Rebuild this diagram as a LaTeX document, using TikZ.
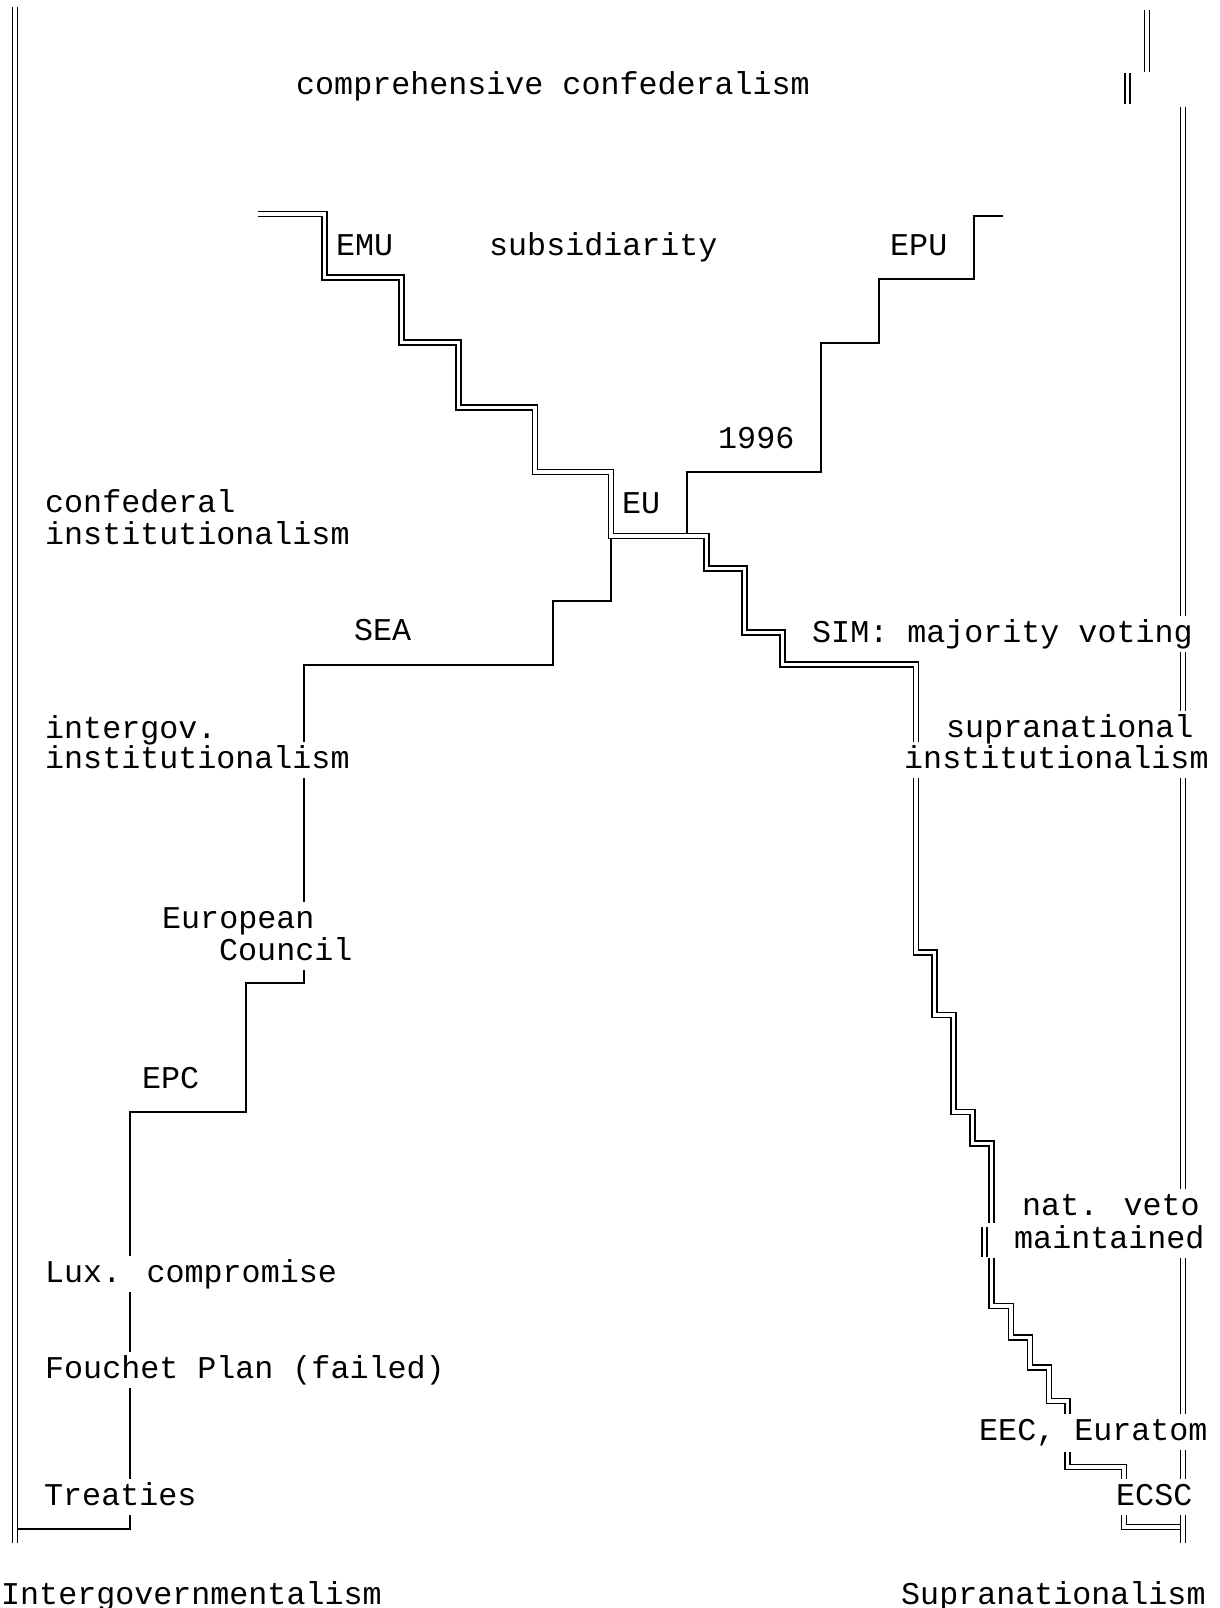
\documentclass[tikz,border=0pt]{standalone}
\usepackage{fontspec}
\newfontfamily\typewriter{Liberation Mono}
\usepackage{tikz}

\begin{document}
\begin{tikzpicture}[x=1pt,y=-1pt,
  wall/.style={double,line width=1.8pt,double distance=3.2pt},
  stair/.style={line width=1.8pt},
  lbl/.style={font=\typewriter\fontsize{31.7}{38}\selectfont,fill=white,inner sep=1pt,
    text height=25pt,text depth=9pt,anchor=base west},
  lblup/.style={lbl,text depth=6pt}]
\useasboundingbox (0,0) rectangle (1219,1608);

% intergovernmental track (single line)
\draw[stair] (17.5,1529) -| (130,1112) -| (246,983) -| (304,665) -| (553,601) -| (611,539);
\draw[stair] (687,534) |- (821,472) |- (879,343) |- (974,279) |- (1003,216);

% supranational track (double line)
\draw[wall] (258,214) -| (324.5,277.5) -| (401.5,342.5) -| (458.5,407.5) -| (535,472)
  -| (611,536) -| (706.5,568.5) -| (744.5,632.5) -| (782.5,664.5) -| (916,952.5)
  -| (934.5,1015) -| (953.5,1112) -| (972.5,1143.5) -| (991.5,1223);
\draw[wall] (984.5,1227) -- (984.5,1257);
\draw[wall] (991.5,1258) |- (1011,1306) |- (1030,1337.5) |- (1049,1367.5) |- (1067.5,1401) -- (1067.5,1415);
\draw[wall] (1067.5,1452) |- (1124,1467) |- (1180,1527);

% borders
\draw[wall] (15,7) -- (15,1543);
\draw[wall] (1147,10) -- (1147,72);
\draw[wall] (1127.5,73) -- (1127.5,104);
\draw[wall] (1183,107) -- (1183,1543);

% labels
\node[lbl] (cc) at (295,95) {comprehensive confederalism};
\node[lbl] (emu) at (335,255) {EMU};
\node[lbl] (subs) at (488,255) {subsidiarity};
\node[lbl] (epu) at (889,255) {EPU};
\node[lbl] (y96) at (717,448) {1996};
\node[lbl] (eu) at (621,513) {EU};
\node[lbl] (ci2) at (44,544) {institutionalism};
\node[lblup] (ci1) at (44,512) {confederal};
\node[lbl] (sea) at (353,640) {SEA};
\node[lbl] (sim) at (811,642) {SIM: majority voting};
\node[lbl] (ii2) at (44,768) {institutionalism};
\node[lblup] (ii1) at (44,738) {intergov.};
\node[lbl] (si2) at (903,768) {institutionalism};
\node[lblup] (si1) at (945,737) {supranational};
\node[lbl] (ec2) at (218,960) {Council};
\node[lblup] (ec1) at (161,928) {European};
\node[lbl] (epc) at (141,1088) {EPC};
\node[lbl] (lux) at (44,1282) {Lux. compromise};
\node[lbl] (fou) at (44,1378) {Fouchet Plan (failed)};
\node[lbl] (tre) at (43,1505) {Treaties};
\node[lbl] (nv2) at (1013,1248) {maintained};
\node[lblup] (nv1) at (1021,1215) {nat. veto};
\node[lbl] (eec) at (978,1440) {EEC, Euratom};
\node[lbl] (ecsc) at (1115,1505) {ECSC};
\node[lbl] (igov) at (0,1604) {Intergovernmentalism};
\node[lbl] (snat) at (900,1604) {Supranationalism};
\end{tikzpicture}
\end{document}
